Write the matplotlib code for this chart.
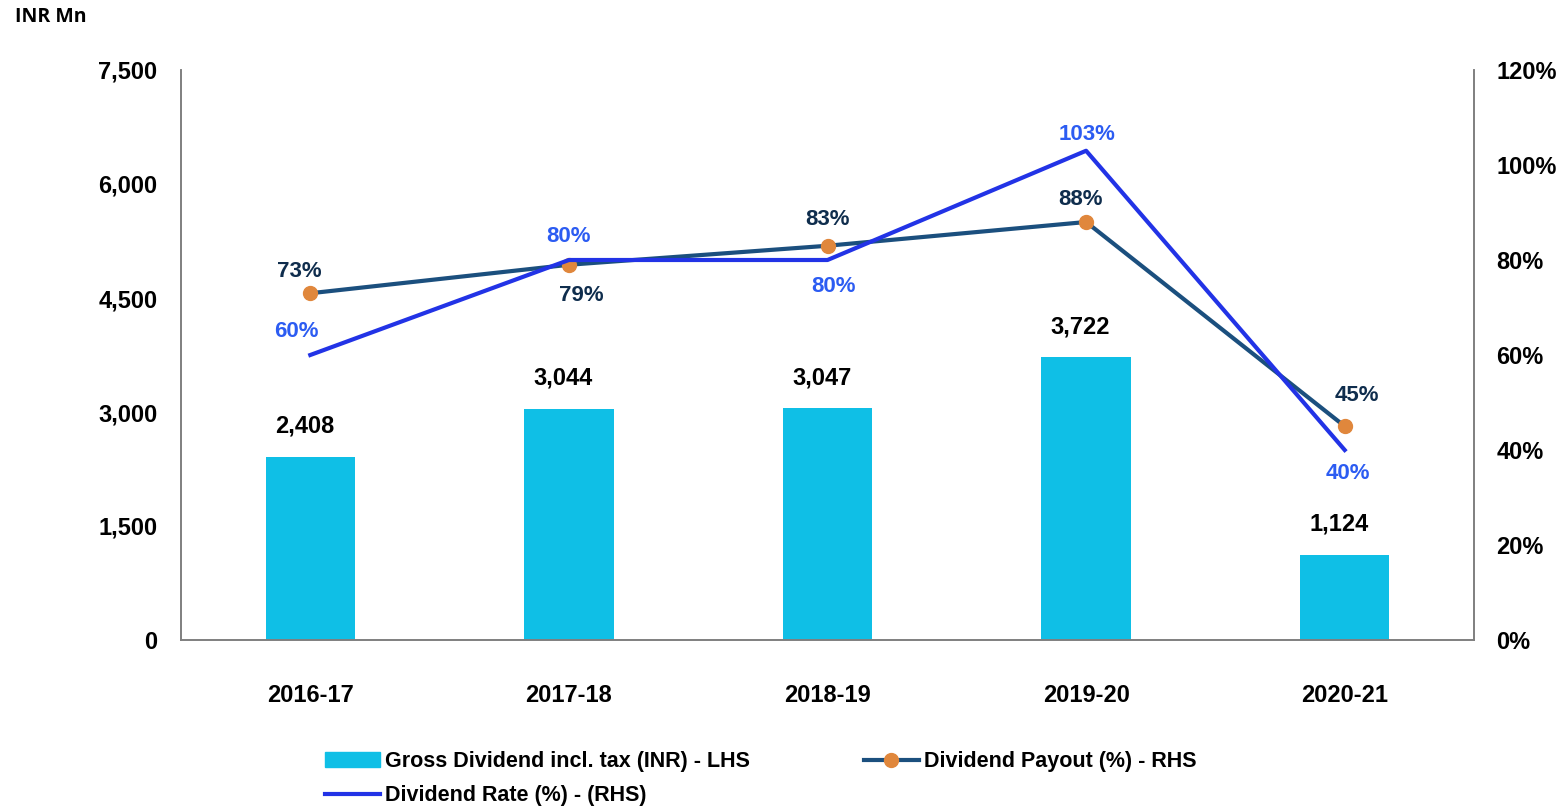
import matplotlib.pyplot as plt
from matplotlib.ticker import FuncFormatter

years = ['2016-17', '2017-18', '2018-19', '2019-20', '2020-21']
gross_dividend = [2408, 3044, 3047, 3722, 1124]
payout_pct = [73, 79, 83, 88, 45]
rate_pct = [60, 80, 80, 103, 40]

bar_color = '#0fbfe6'
payout_color = '#1b4f7e'
marker_color = '#e0873c'
rate_color = '#2233e6'
payout_text = '#0f2d4d'
rate_text = '#2c5cf2'

plt.rcParams['font.family'] = ['Liberation Sans', 'DejaVu Sans']
plt.rcParams['font.weight'] = 'bold'

fig = plt.figure(figsize=(15.61, 8.06), dpi=100)
ax = fig.add_axes([181 / 1561, 1 - 640 / 806, 1293 / 1561, 570 / 806])
ax2 = ax.twinx()

x = list(range(len(years)))
ax.bar(x, gross_dividend, width=0.345, color=bar_color, zorder=2)
ax.set_xlim(-0.5, len(years) - 0.5)
ax.set_ylim(0, 7500)
ax.set_yticks([0, 1500, 3000, 4500, 6000, 7500])
ax.yaxis.set_major_formatter(FuncFormatter(lambda v, p: f'{v:,.0f}'))
ax.set_xticks(x)
ax.set_xticklabels(years)
for xi, v in zip(x, gross_dividend):
    ax.text(xi - 0.022, v + 250, f'{v:,}', ha='center', va='bottom', fontsize=17, fontweight='bold', color='black')

ax2.set_ylim(0, 120)
ax2.set_yticks(range(0, 121, 20))
ax2.yaxis.set_major_formatter(FuncFormatter(lambda v, p: f'{v:.0f}%'))
ax2.plot(x, payout_pct, color=payout_color, lw=3, marker='o', markersize=10,
         markerfacecolor=marker_color, markeredgecolor=marker_color, zorder=3)
ax2.plot(x, rate_pct, color=rate_color, lw=3, zorder=4)

# label offsets (points) chosen to mirror the reference placement
payout_off = [(-8, 16), (9, -22), (0, 19), (-4, 16), (9, 22)]
rate_off = [(-10, 17), (0, 17), (4, -19), (1, 12), (2, -17)]
for xi, v, (dx, dy) in zip(x, payout_pct, payout_off):
    ax2.annotate(f'{v}%', (xi, v), xytext=(dx, dy), textcoords='offset points',
                 ha='center', va='center', fontsize=16, fontweight='bold', color=payout_text)
for xi, v, (dx, dy) in zip(x, rate_pct, rate_off):
    ax2.annotate(f'{v}%', (xi, v), xytext=(dx, dy), textcoords='offset points',
                 ha='center', va='center', fontsize=16, fontweight='bold', color=rate_text)

for a in (ax, ax2):
    a.spines['top'].set_visible(False)
    for s in ('left', 'right', 'bottom'):
        a.spines[s].set_color('#7f7f7f')
        a.spines[s].set_linewidth(1.2)
    a.tick_params(length=0, labelsize=17)
    for lbl in a.get_yticklabels() + a.get_xticklabels():
        lbl.set_fontweight('bold')
ax.tick_params(axis='y', pad=17)
ax.tick_params(axis='x', pad=32)
ax2.tick_params(axis='y', pad=16)

fig.text(15 / 1561, 1 - 17 / 806, 'INR Mn', fontsize=14, fontweight='bold',
         family='Open Sans', ha='left', va='center')

h_bar = plt.Rectangle((0, 0), 1, 1, color=bar_color)
h_pay, = ax2.plot([], [], color=payout_color, lw=3, marker='o', markersize=10,
                  markerfacecolor=marker_color, markeredgecolor=marker_color)
h_rate, = ax2.plot([], [], color=rate_color, lw=3)
fig.legend([h_bar, h_rate, h_pay],
           ['Gross Dividend incl. tax (INR) - LHS', 'Dividend Rate (%) - (RHS)',
            'Dividend Payout (%) - RHS'],
           ncol=2, loc='lower left', bbox_to_anchor=(313 / 1561, -12 / 806), frameon=False,
           prop={'size': 15.5, 'weight': 'bold'}, handlelength=2.55, handletextpad=0.23,
           columnspacing=5.3, labelspacing=0.6, borderaxespad=0.15)

fig.savefig('out.png', dpi=100)
